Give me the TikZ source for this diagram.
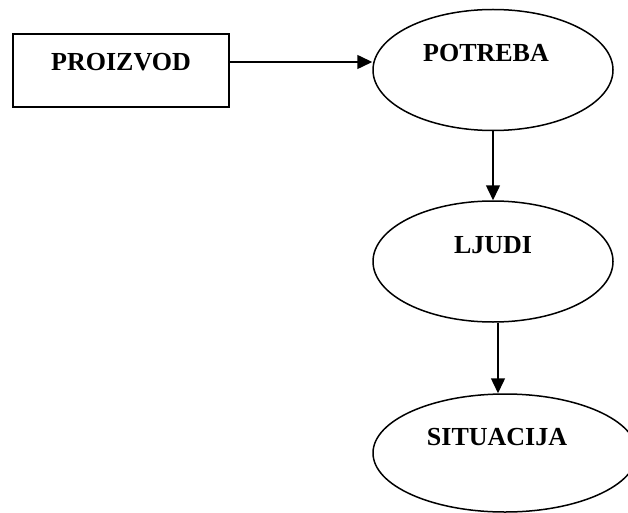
\documentclass[tikz,border=0pt]{standalone}
\usepackage{fontspec}
\setmainfont{Liberation Serif}
\usetikzlibrary{shapes.geometric,arrows.meta}

\begin{document}
\begin{tikzpicture}[x=1pt, y=-1pt, >={Triangle[length=15pt,width=14pt]}]
    % Styles
    \tikzset{
        box/.style={draw, line width=1.9pt, rectangle, minimum width=216pt, minimum height=73pt, inner sep=0pt},
        oval/.style={draw, line width=1.5pt, ellipse, minimum width=240pt, minimum height=121pt, inner sep=0pt},
        lbl/.style={font=\fontsize{26}{30}\selectfont\bfseries, inner sep=0pt},
        arr/.style={->, line width=1.5pt}
    }

    % Canvas
    \useasboundingbox (0,0) rectangle (628,513);

    % Draw shapes
    \node[box] (proizvod) at (121,70.5) {};
    \node[oval] (potreba) at (493,70) {};
    \node[oval] (ljudi) at (493,261.5) {};
    \node[oval, minimum width=264pt, minimum height=118pt] (situacija) at (505,453) {};

    % Labels
    \node[lbl] at ([yshift=8.5pt]proizvod.center) {PROIZVOD};
    \node[lbl] at ([xshift=-7pt, yshift=17pt]potreba.center) {POTREBA};
    \node[lbl] at ([yshift=16.5pt]ljudi.center) {LJUDI};
    \node[lbl] at ([xshift=-8pt, yshift=16pt]situacija.center) {SITUACIJA};

    % Draw arrows
    \draw[arr] ([yshift=8.5pt]proizvod.east) -- ([yshift=8.5pt]proizvod.east -| potreba.west);
    \draw[arr] (potreba.south) -- (ljudi.north);
    \draw[arr] ([xshift=5pt]ljudi.south) -- ([xshift=5pt]ljudi.south |- situacija.north);
\end{tikzpicture}
\end{document}
